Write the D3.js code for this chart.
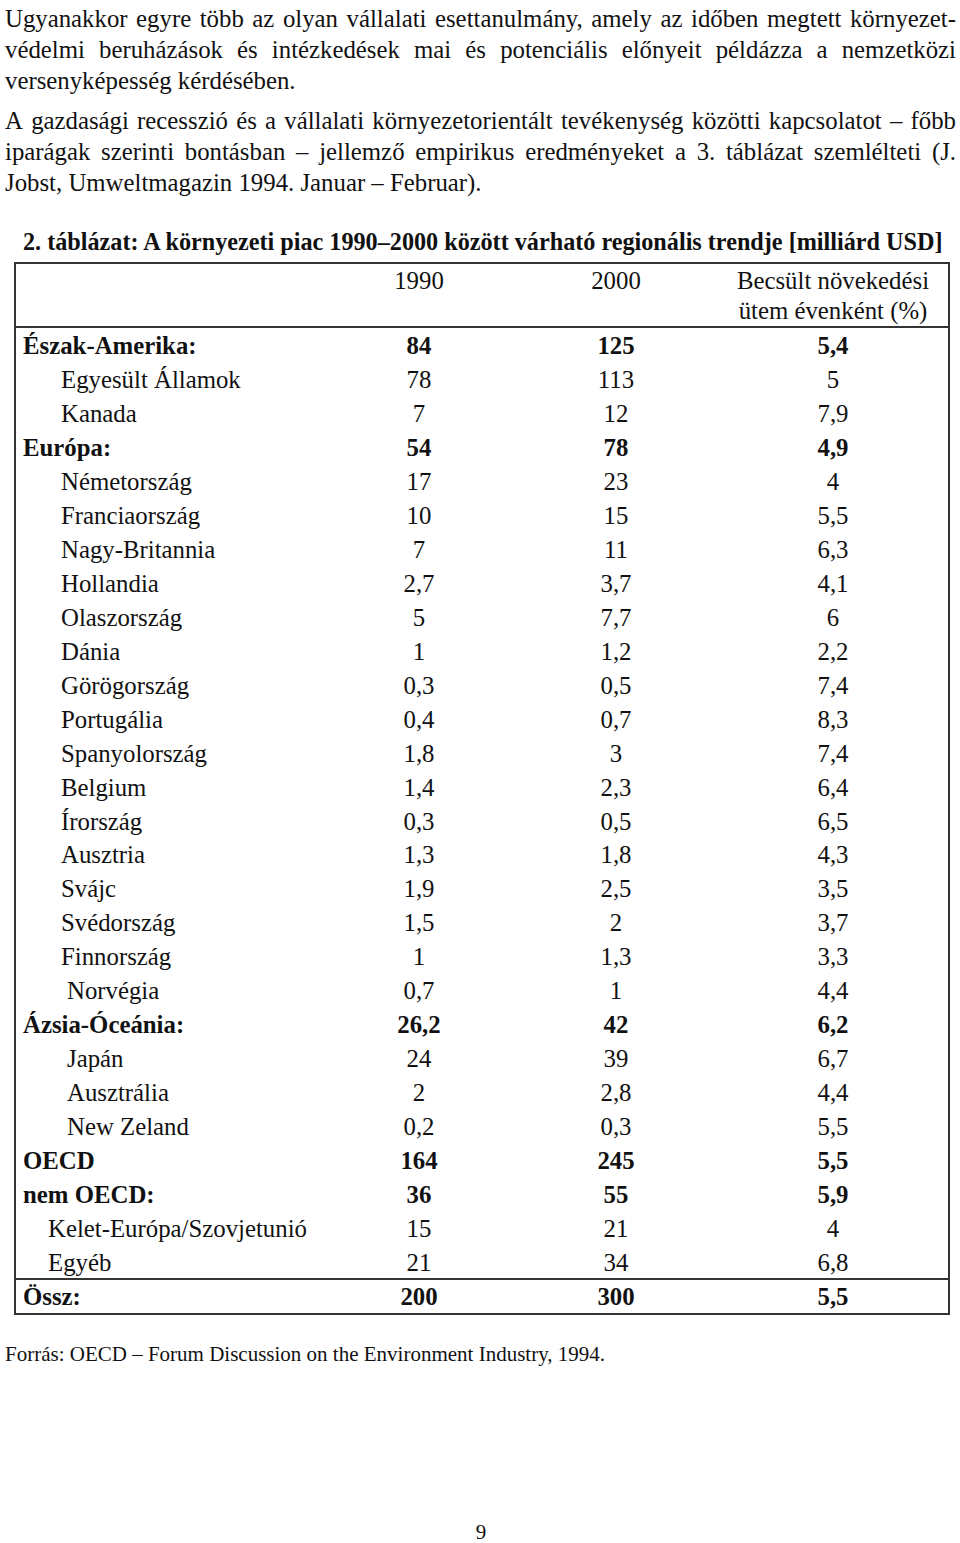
<!DOCTYPE html>
<html>
<head>
<meta charset="utf-8">
<script src="https://cdn.jsdelivr.net/npm/d3@7"></script>
<style>
  body { margin: 0; background: #fff; }
  svg text { font-family: "Liberation Serif", "Times New Roman", serif; fill: #111; }
</style>
</head>
<body>
<script>
// paragraph text (each inner array is one printed line)
const para1 = [
  "Ugyanakkor egyre több az olyan vállalati esettanulmány, amely az időben megtett környezet-",
  "védelmi beruházások és intézkedések mai és potenciális előnyeit példázza a nemzetközi",
  "versenyképesség kérdésében."
];
const para2 = [
  "A gazdasági recesszió és a vállalati környezetorientált tevékenység közötti kapcsolatot – főbb",
  "iparágak szerinti bontásban – jellemző empirikus eredményeket a 3. táblázat szemlélteti (J.",
  "Jobst, Umweltmagazin 1994. Januar – Februar)."
];
const tableTitle = "2. táblázat: A környezeti piac 1990–2000 között várható regionális trendje [milliárd USD]";
const columns = ["1990", "2000", "Becsült növekedési|ütem évenként (%)"];

const labels = [
  "Észak-Amerika:", "Egyesült Államok", "Kanada",
  "Európa:", "Németország", "Franciaország", "Nagy-Britannia", "Hollandia", "Olaszország",
  "Dánia", "Görögország", "Portugália", "Spanyolország", "Belgium", "Írország", "Ausztria",
  "Svájc", "Svédország", "Finnország", "Norvégia",
  "Ázsia-Óceánia:", "Japán", "Ausztrália", "New Zeland",
  "OECD", "nem OECD:", "Kelet-Európa/Szovjetunió", "Egyéb", "Össz:"
];
const rowLevel = [
  "region", "country", "country",
  "region", "country", "country", "country", "country", "country",
  "country", "country", "country", "country", "country", "country", "country",
  "country", "country", "country", "country2",
  "region", "country2", "country2", "country2",
  "region", "region", "other", "other", "total"
];
const v1990 = ["84","78","7","54","17","10","7","2,7","5","1","0,3","0,4","1,8","1,4","0,3","1,3",
  "1,9","1,5","1","0,7","26,2","24","2","0,2","164","36","15","21","200"];
const v2000 = ["125","113","12","78","23","15","11","3,7","7,7","1,2","0,5","0,7","3","2,3","0,5","1,8",
  "2,5","2","1,3","1","42","39","2,8","0,3","245","55","21","34","300"];
const growth = ["5,4","5","7,9","4,9","4","5,5","6,3","4,1","6","2,2","7,4","8,3","7,4","6,4","6,5","4,3",
  "3,5","3,7","3,3","4,4","6,2","6,7","4,4","5,5","5,5","5,9","4","6,8","5,5"];
const source = "Forrás: OECD – Forum Discussion on the Environment Industry, 1994.";
const pageNo = "9";

const W = 960, H = 1543;
const fs = 24.8;
const svg = d3.select("body").append("svg").attr("width", W).attr("height", H);

// justified paragraph lines
function paragraph(lines, y0, lh) {
  lines.forEach((ln, i) => {
    const yy = y0 + i * lh;
    const words = ln.split(" ");
    const last = i === lines.length - 1;
    if (last) {
      svg.append("text").attr("x", 5).attr("y", yy).attr("font-size", fs).text(ln);
      return;
    }
    const g = svg.append("g");
    const ts = words.map(w => g.append("text").attr("y", yy).attr("font-size", fs).text(w));
    const widths = ts.map(t => t.node().getComputedTextLength());
    const gap = (956 - 5 - d3.sum(widths)) / (words.length - 1);
    let xx = 5;
    ts.forEach((t, j) => { t.attr("x", xx); xx += widths[j] + gap; });
  });
}
paragraph(para1, 27, 31);
paragraph(para2, 129, 31);

svg.append("text").attr("x", 23).attr("y", 250).attr("font-size", 24.2)
  .attr("font-weight", "bold").text(tableTitle);

// table geometry
const tLeft = 15, tRight = 949, tTop = 263, headBottom = 327;
const y = d3.scaleBand().domain(d3.range(labels.length)).range([329, 1314]);
const x = d3.scaleOrdinal().domain([0, 1, 2]).range([419, 616, 833]);
const indent = d3.scaleOrdinal().domain(["region", "total", "country", "country2", "other"])
  .range([23, 23, 61, 67, 48]);

const stroke = "#333";
svg.append("rect").attr("x", tLeft).attr("y", tTop).attr("width", tRight - tLeft)
  .attr("height", y.range()[1] - tTop).attr("fill", "none").attr("stroke", stroke).attr("stroke-width", 2);
svg.append("line").attr("x1", tLeft).attr("x2", tRight).attr("y1", headBottom).attr("y2", headBottom)
  .attr("stroke", stroke).attr("stroke-width", 2);
const totalIdx = labels.length - 1;
svg.append("line").attr("x1", tLeft).attr("x2", tRight)
  .attr("y1", y(totalIdx) - 1).attr("y2", y(totalIdx) - 1)
  .attr("stroke", stroke).attr("stroke-width", 2);

// header
columns.forEach((c, i) => {
  c.split("|").forEach((part, k) => {
    svg.append("text").attr("x", x(i)).attr("y", 289 + k * 30).attr("font-size", fs)
      .attr("text-anchor", "middle").text(part);
  });
});

// rows
const rows = svg.append("g").selectAll("g").data(labels).join("g")
  .attr("transform", (d, i) => `translate(0,${y(i) + y.bandwidth() / 2 + 8})`)
  .attr("font-weight", (d, i) => (rowLevel[i] === "region" || rowLevel[i] === "total") ? "bold" : null);
rows.append("text").attr("x", (d, i) => indent(rowLevel[i])).attr("font-size", fs).text(d => d);
[v1990, v2000, growth].forEach((arr, c) => {
  rows.append("text").attr("x", x(c)).attr("text-anchor", "middle").attr("font-size", fs)
    .text((d, i) => arr[i]);
});

svg.append("text").attr("x", 5).attr("y", 1361).attr("font-size", 21).text(source);
svg.append("text").attr("x", 481).attr("y", 1539).attr("font-size", 21)
  .attr("text-anchor", "middle").text(pageNo);
</script>
</body>
</html>
